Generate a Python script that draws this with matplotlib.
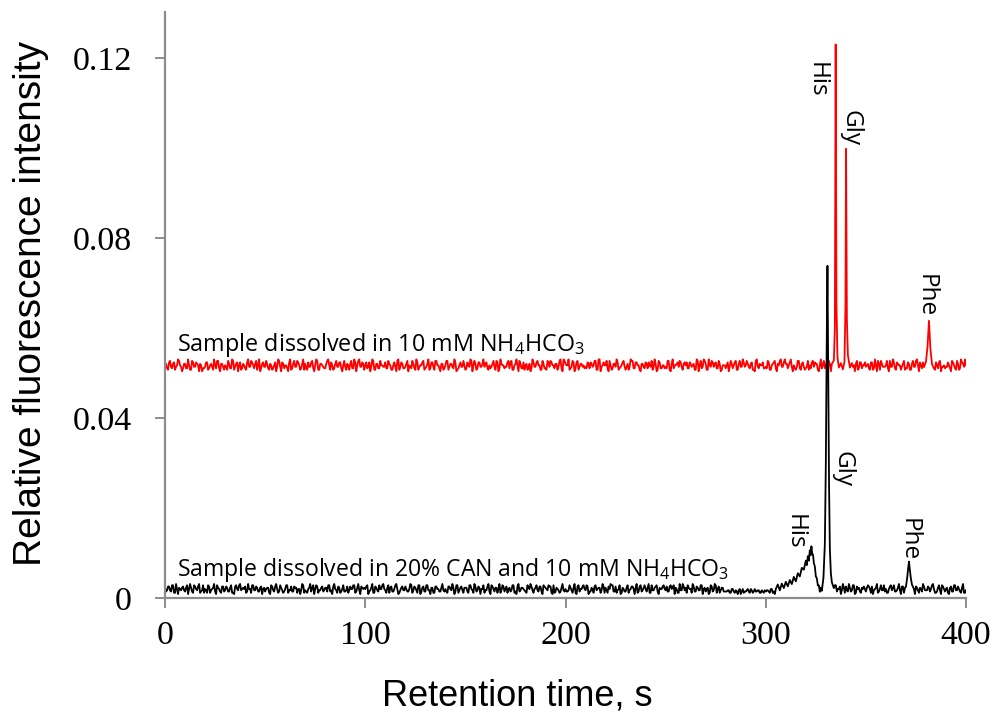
import numpy as np
import matplotlib
matplotlib.use("Agg")
import matplotlib.pyplot as plt

# ---------------- data ----------------
time_start, time_stop = 0, 400

# red trace: baseline level + digit-coded noise
# (one digit per whole second, and one per half second)
red_base = 0.0517
red_noise_unit = 0.00033
red_noise_whole = (
    "5374625843" "6352746153" "4736258364" "5263847526" "3748562937"
    "4625374816" "5372648539" "6247358264" "3857264735" "4628375946"
    "5374826354" "7362548273" "4853627458" "3627485362" "5846372548"
    "2748563749" "6354827365" "4738265837" "5263748526" "3847562839"
    "6524738465" "4736582947" "5382647358" "2648375264" "7358462735"
    "4826357846" "5374628539" "6258473625" "3746582847" "5637284653"
    "4825736847" "6374528364" "3857462538" "5264837462" "7438562735"
    "4627358264" "5384726548" "3726485736" "6548273845" "4738526374"
    "5"
)
red_noise_half = (
    "6283749516" "3928475613" "7254938162" "4839261735" "2947385164"
    "8362519473" "5193847262" "3748192653" "6925384718" "2563918472"
    "7419263854" "3852719463" "6148392572" "4937285163" "8264913745"
    "3591827464" "7236481953" "4872591632" "6319475283" "2785364918"
    "5938172643" "3674829155" "8153692474" "4298375163" "6742918353"
    "3819564727" "7365291848" "2947638155" "5183726494" "8462193573"
    "3726815949" "6591348272" "4238761953" "7815293462" "2694183757"
    "5372916844" "8149375262" "3628491575" "6983257143" "4517382969"
)
# red peaks (His, Gly, Phe)
red_peak_windows = [(333, 343), (379, 384)]
red_peak_t = [333, 334, 334.5, 334.9, 335.3, 335.8, 336.5, 337.5, 338.5,
              339.3, 339.8, 340.1, 340.5, 341, 342, 343,
              379, 380, 380.8, 381.5, 382.2, 383, 384]
red_peak_v = [0.0520, 0.0528, 0.0600, 0.1230, 0.0650, 0.0535, 0.0512, 0.0522, 0.0508,
              0.0525, 0.0650, 0.0998, 0.0620, 0.0540, 0.0512, 0.0522,
              0.0513, 0.0525, 0.0560, 0.0616, 0.0555, 0.0520, 0.0510]

# black trace
black_base = 0.0020
black_noise_unit = 0.00028
black_noise_whole = (
    "6473825647" "3856274938" "5274638527" "4638275846" "7352846375"
    "3628475362" "5847362548" "4263857463" "6384752638" "3745826475"
    "5836274859" "4627385264" "7358462837" "3846275364" "5274638472"
    "6385274658" "4738562947" "5264837365" "3857264738" "6472835264"
    "5384627358" "4736285647" "6258374825" "3847562736" "5628473658"
    "4375862947" "6852736485" "3627485263" "3425341532" "3524334242"
    "3425342536" "3548627365" "5836274853" "4627385746" "7364825367"
    "3857462548" "5274836472" "6385274637" "4738526485" "5263847362"
    "4"
)
black_noise_half = (
    "3748291564" "6193857242" "4825916373" "7362184955" "2958473616"
    "5617392843" "8243765192" "3596182474" "6831947253" "4275839166"
    "7149263585" "2863591474" "5392748163" "8416275393" "3759182646"
    "6284937152" "4917365283" "7538219464" "2694583717" "5871264393"
    "3462918575" "8135746292" "4798325163" "6257193848" "3924681575"
    "7386152494" "2659374816" "5183927463" "3425234153" "4352534234"
    "4352134253" "6847215393" "3518492674" "7264835192" "4938176255"
    "6721593843" "2586349176" "8347162594" "4659238173" "6173845292"
)
black_peak_windows = [(305, 334), (370, 374)]
black_peak_t = [305, 306, 307, 308, 309, 310, 311, 312, 313, 314, 315, 316,
                317, 318, 319, 320, 320.5, 321, 321.5, 322, 322.4, 322.8, 323.2,
                323.6, 324, 324.5, 325, 325.5, 326, 326.5, 327, 327.5, 328, 328.8,
                329.5, 330.0, 330.4, 330.8, 331.2, 331.6, 332.0, 332.5, 333, 334,
                370, 370.7, 371.1, 371.5, 371.9, 372.4, 373, 374]
black_peak_v = [0.0020, 0.0030, 0.0017, 0.0032, 0.0022, 0.0036, 0.0026, 0.0040,
                0.0031, 0.0047, 0.0037, 0.0055, 0.0048, 0.0067, 0.0063, 0.0083,
                0.0073, 0.0093, 0.0083, 0.0106, 0.0095, 0.0115, 0.0098, 0.0096,
                0.0078, 0.0070, 0.0048, 0.0044, 0.0028, 0.0028, 0.0014, 0.0023,
                0.0016, 0.0045, 0.0120, 0.0300, 0.0550, 0.0738, 0.0500, 0.0250,
                0.0110, 0.0055, 0.0035, 0.0022,
                0.0025, 0.0048, 0.0066, 0.0081, 0.0064, 0.0045, 0.0030, 0.0020]

x_ticks = [0, 100, 200, 300, 400]
y_ticks = [0, 0.04, 0.08, 0.12]
y_tick_labels = ["0", "0.04", "0.08", "0.12"]

x_label = "Retention time, s"
y_label = "Relative fluorescence intensity"
red_caption = r"Sample dissolved in 10 mM NH$_4$HCO$_3$"
black_caption = r"Sample dissolved in 20% CAN and 10 mM NH$_4$HCO$_3$"
red_peak_names = ["His", "Gly", "Phe"]
red_label_pos = [(325.3, 0.1151), (342.1, 0.1044), (379.8, 0.0671)]
black_peak_names = ["His", "Gly", "Phe"]
black_label_pos = [(314.6, 0.0147), (338.3, 0.0287), (371.5, 0.0131)]


def build_trace(base, unit, whole, half, windows, pk_t, pk_v):
    t_w = np.arange(time_start, time_stop + 1, 1, dtype=float)
    t_h = np.arange(time_start, time_stop, 1, dtype=float) + 0.5
    v_w = base + (np.array([int(c) for c in whole], dtype=float) - 5) * unit
    v_h = base + (np.array([int(c) for c in half], dtype=float) - 5) * unit
    t = np.concatenate([t_w, t_h])
    v = np.concatenate([v_w, v_h])
    keep = np.ones_like(t, dtype=bool)
    for a, b in windows:
        keep &= ~((t >= a) & (t <= b))
    tt = np.concatenate([t[keep], np.array(pk_t, dtype=float)])
    vv = np.concatenate([v[keep], np.array(pk_v, dtype=float)])
    order = np.argsort(tt, kind="stable")
    return tt[order], vv[order]


red_t, red_v = build_trace(red_base, red_noise_unit, red_noise_whole, red_noise_half,
                           red_peak_windows, red_peak_t, red_peak_v)
blk_t, blk_v = build_trace(black_base, black_noise_unit, black_noise_whole,
                           black_noise_half, black_peak_windows,
                           black_peak_t, black_peak_v)

# ---------------- plot ----------------
plt.rcParams["mathtext.fontset"] = "custom"
plt.rcParams["mathtext.rm"] = "Open Sans"
plt.rcParams["mathtext.it"] = "Open Sans"
plt.rcParams["mathtext.default"] = "regular"

fig = plt.figure(figsize=(9.96, 7.15), dpi=100)
ax = fig.add_axes([0.1657, 0.1636, 0.8042, 0.8196])

ax.plot(red_t, red_v, color="#ff0000", lw=1.3)
ax.plot(blk_t, blk_v, color="#000000", lw=1.3)

ax.set_xlim(0, 400)
ax.set_ylim(0, 0.1302)

spine_col = "#8c8c8c"
for s in ["top", "right"]:
    ax.spines[s].set_visible(False)
for s in ["left", "bottom"]:
    ax.spines[s].set_color(spine_col)
    ax.spines[s].set_linewidth(1.6)

ax.set_xticks(x_ticks)
ax.set_xticklabels([str(v) for v in x_ticks])
ax.set_yticks(y_ticks)
ax.set_yticklabels(y_tick_labels)
ax.tick_params(axis="both", direction="out", length=7, width=1.4, color=spine_col,
               labelsize=24.5)
ax.tick_params(axis="y", pad=17)
ax.tick_params(axis="x", pad=9)
for lab in ax.get_xticklabels() + ax.get_yticklabels():
    lab.set_family("Liberation Serif")

ax.set_xlabel(x_label, fontsize=26, family="Liberation Sans")
ax.set_ylabel(y_label, fontsize=28, family="Liberation Sans")
ax.xaxis.set_label_coords(0.44, -0.138)
ax.yaxis.set_label_coords(-0.145, 0.503)

ax.text(5.8, 0.0549, red_caption, fontsize=16.8, family="Open Sans",
        ha="left", va="baseline")
ax.text(5.8, 0.0050, black_caption, fontsize=16.6, family="Open Sans",
        ha="left", va="baseline")

for name, (x, y) in zip(red_peak_names, red_label_pos):
    ax.text(x, y, name, rotation=270, fontsize=17.5, family="Open Sans",
            ha="center", va="center")
for name, (x, y) in zip(black_peak_names, black_label_pos):
    ax.text(x, y, name, rotation=270, fontsize=17.5, family="Open Sans",
            ha="center", va="center")

fig.savefig("out.png", dpi=100)
